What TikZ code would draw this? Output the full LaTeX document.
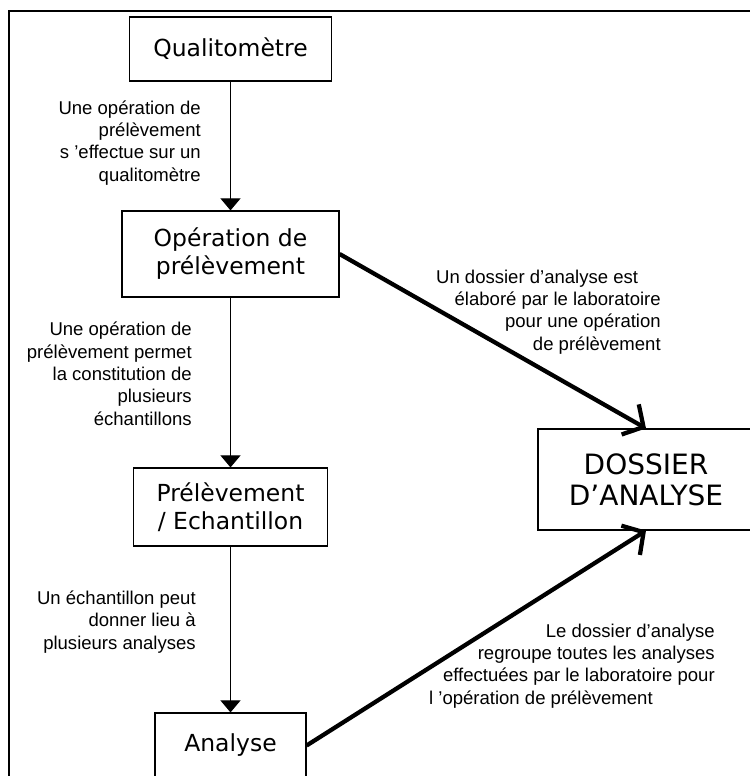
\documentclass[tikz,border=0pt]{standalone}
\usepackage{fontspec}
\setmainfont{DejaVu Sans}
\newfontfamily\lblfont{Liberation Sans}
\usetikzlibrary{arrows.meta}
\begin{document}
\begin{tikzpicture}[x=0.75pt,y=-0.75pt,
  entity/.style={draw,line width=0.9pt,rectangle,align=center,inner sep=0pt,
    font=\fontsize{17.6pt}{21pt}\selectfont},
  bigentity/.style={entity,font=\fontsize{21pt}{23.5pt}\selectfont},
  note/.style={align=right,inner sep=0pt,anchor=base east,
    font=\lblfont\fontsize{13.9pt}{16.7pt}\selectfont},
  thinlink/.style={line width=0.75pt,-{Triangle[length=9pt,width=15pt]}},
  thicklink/.style={line width=3.2pt,-{Straight Barb[length=11.5pt,width=26pt,line width=3.2pt]}}]
  \useasboundingbox (0,0) rectangle (750,776);
  % outer frame
  \draw[line width=1.8pt] (9,11) rectangle (770,800);

  % entities
  \node[entity,minimum width=151.5pt,minimum height=48pt] (qual) at (230.5,49) {Qualitomètre};
  \node[entity,minimum width=162.75pt,minimum height=64.5pt] (oper) at (230.5,254) {Opération de\\prélèvement};
  \node[entity,minimum width=145.5pt,minimum height=58.5pt] (prel) at (230.5,507) {Prélèvement\\/ Echantillon};
  \node[entity,minimum width=113.25pt,minimum height=48.75pt] (anal) at (230.5,745.5) {Analyse};
  \node[bigentity,minimum width=162pt,minimum height=75.75pt] (doss) at (646,479.5) {DOSSIER\\D’ANALYSE};

  % links
  \draw[thinlink] (qual) -- (oper);
  \draw[thinlink] (oper) -- (prel);
  \draw[thinlink] (prel) -- (anal);
  \draw[thicklink] (oper.east) -- (doss.north);
  \draw[thicklink] (anal.east) -- (doss.south);

  % link labels (placed by the baseline of their last line)
  \node[note] (n1) at (201,181) {Une opération de\\prélèvement\\s ’effectue sur un\\qualitomètre};
  \node[note] (n2) at (192,425) {Une opération de\\prélèvement permet\\la constitution de\\plusieurs\\échantillons};
  \node[note] (n3) at (196,649) {Un échantillon peut\\donner lieu à\\plusieurs analyses};
  \node[note] (n4) at (661,350) {Un dossier d’analyse est\hspace*{17pt}\\élaboré par le laboratoire\\pour une opération\\de prélèvement};
  \node[note] (n5) at (715,704) {Le dossier d’analyse\\regroupe toutes les analyses\\effectuées par le laboratoire pour\\l ’opération de prélèvement\hspace*{46.5pt}};
\end{tikzpicture}
\end{document}
